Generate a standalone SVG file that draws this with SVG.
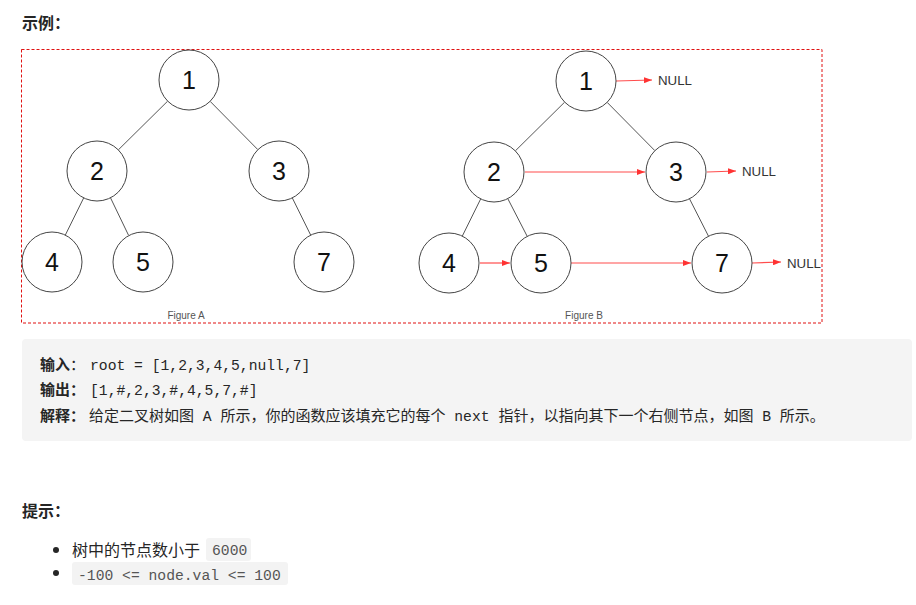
<svg xmlns="http://www.w3.org/2000/svg" width="916" height="605" viewBox="0 0 916 605">
<style>
.bg{fill:#ffffff}
.node circle{fill:#ffffff;stroke:#444;stroke-width:1}
.node text{font-family:"Liberation Sans",Arial,sans-serif;font-size:25px;fill:#111;text-anchor:middle}
.edge{stroke:#555;stroke-width:1;fill:none}
.next{stroke:#ff4d4d;stroke-width:1.2;fill:none;marker-end:url(#arr)}
.null{font-family:"Liberation Sans",Arial,sans-serif;font-size:13.3px;fill:#333}
.fig{font-family:"Liberation Sans",Arial,sans-serif;font-size:10px;fill:#555;text-anchor:middle}
.h{font-family:"Noto Sans CJK SC",sans-serif;font-size:16px;font-weight:bold;fill:#262626}
.cjk{font-family:"Noto Sans CJK SC",sans-serif;font-size:15px;fill:#262626}
.cjkb{font-family:"Noto Sans CJK SC",sans-serif;font-size:15px;font-weight:bold;fill:#262626}
.mono{font-family:"Liberation Mono","DejaVu Sans Mono",monospace;font-size:14.7px;fill:#262626}
.code{fill:#f3f3f3}
.codet{font-family:"Liberation Mono","DejaVu Sans Mono",monospace;font-size:14.7px;fill:#555}
</style>
<defs>
<marker id="arr" markerWidth="8" markerHeight="6" refX="8" refY="3" orient="auto" markerUnits="userSpaceOnUse">
<path d="M0,0 L8,3 L0,6 Z" fill="#ff3333"/>
</marker>
</defs>
<rect class="bg" x="0" y="0" width="916" height="605"/>

<text class="h" x="22" y="29">示例：</text>

<rect x="21.5" y="49.5" width="800.5" height="273.5" fill="none" stroke="#e01010" stroke-width="1" stroke-dasharray="3,2"/>

<g id="connectors">
<line class="edge" x1="167.7" y1="101.1" x2="118.3" y2="149.9"/>
<line class="edge" x1="210.1" y1="101.3" x2="257.9" y2="149.7"/>
<line class="edge" x1="83.7" y1="197.9" x2="65.3" y2="235.1"/>
<line class="edge" x1="110.5" y1="197.8" x2="128.5" y2="235.2"/>
<line class="edge" x1="292.3" y1="197.9" x2="310.7" y2="235.1"/>

<line class="edge" x1="564.7" y1="102.1" x2="515.3" y2="150.9"/>
<line class="edge" x1="607.1" y1="102.3" x2="654.9" y2="150.7"/>
<line class="edge" x1="480.7" y1="198.9" x2="462.3" y2="236.1"/>
<line class="edge" x1="507.8" y1="198.7" x2="527.2" y2="236.3"/>
<line class="edge" x1="689.5" y1="198.8" x2="708.5" y2="236.2"/>

<line class="next" x1="616" y1="81" x2="652" y2="80"/>
<line class="next" x1="707" y1="172" x2="736" y2="171"/>
<line class="next" x1="752" y1="263" x2="781" y2="262"/>
<line class="next" x1="525" y1="172" x2="645" y2="172"/>
<line class="next" x1="480" y1="263" x2="510" y2="263"/>
<line class="next" x1="571" y1="263" x2="691" y2="263"/>
</g>

<g id="a1" class="node"><circle cx="189" cy="80" r="30"/><text x="189" y="89">1</text></g>
<g id="a2" class="node"><circle cx="97" cy="171" r="30"/><text x="97" y="180">2</text></g>
<g id="a3" class="node"><circle cx="279" cy="171" r="30"/><text x="279" y="180">3</text></g>
<g id="a4" class="node"><circle cx="52" cy="262" r="30"/><text x="52" y="271">4</text></g>
<g id="a5" class="node"><circle cx="143" cy="262" r="30"/><text x="143" y="271">5</text></g>
<g id="a7" class="node"><circle cx="324" cy="262" r="30"/><text x="324" y="271">7</text></g>

<g id="b1" class="node"><circle cx="586" cy="81" r="30"/><text x="586" y="90">1</text></g>
<g id="b2" class="node"><circle cx="494" cy="172" r="30"/><text x="494" y="181">2</text></g>
<g id="b3" class="node"><circle cx="676" cy="172" r="30"/><text x="676" y="181">3</text></g>
<g id="b4" class="node"><circle cx="449" cy="263" r="30"/><text x="449" y="272">4</text></g>
<g id="b5" class="node"><circle cx="541" cy="263" r="30"/><text x="541" y="272">5</text></g>
<g id="b7" class="node"><circle cx="722" cy="263" r="30"/><text x="722" y="272">7</text></g>

<text class="null" x="658" y="85">NULL</text>
<text class="null" x="742" y="176">NULL</text>
<text class="null" x="787" y="268">NULL</text>

<text class="fig" x="186" y="319">Figure A</text>
<text class="fig" x="584" y="319">Figure B</text>

<rect x="22" y="339" width="890" height="102" rx="4" fill="#f4f4f4"/>
<text x="40" y="370"><tspan class="cjkb">输入</tspan><tspan class="cjk">：</tspan><tspan class="mono" x="90">root = [1,2,3,4,5,null,7]</tspan></text>
<text x="40" y="395"><tspan class="cjkb">输出：</tspan><tspan class="mono" x="90">[1,#,2,3,#,4,5,7,#]</tspan></text>
<text x="40" y="421"><tspan class="cjkb">解释：</tspan><tspan class="cjk" x="89">给定二叉树如图</tspan><tspan class="mono"> A </tspan><tspan class="cjk">所示，你的函数应该填充它的每个</tspan><tspan class="mono"> next </tspan><tspan class="cjk">指针，以指向其下一个右侧节点，如图</tspan><tspan class="mono"> B </tspan><tspan class="cjk">所示。</tspan></text>

<text class="h" x="22" y="517">提示：</text>

<circle cx="56" cy="550" r="3" fill="#262626"/>
<text class="cjk" x="72" y="556" style="font-size:16px">树中的节点数小于</text>
<rect class="code" x="206" y="538" width="45" height="23" rx="3"/>
<text class="codet" x="212" y="555">6000</text>

<circle cx="56" cy="573" r="3" fill="#262626"/>
<rect class="code" x="72" y="562" width="216" height="23" rx="3"/>
<text class="codet" x="78" y="580">-100 &lt;= node.val &lt;= 100</text>
</svg>
